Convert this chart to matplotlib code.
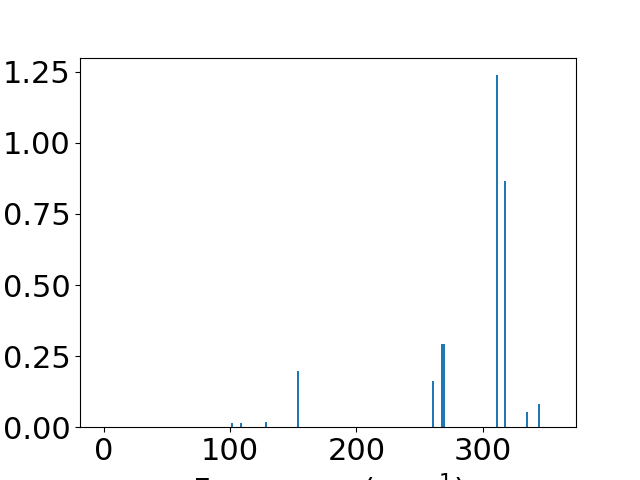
import matplotlib
matplotlib.use("Agg")
import matplotlib.pyplot as plt

# frequencies (cm^-1) and intensities
freq = [101.1, 108.7, 128.5, 153.6, 260.5, 268.2, 269.2, 311.2, 317.5, 335.5, 345.0]
intensity = [0.014, 0.014, 0.018, 0.197, 0.162, 0.292, 0.292, 1.239, 0.866, 0.053, 0.081]

plt.rcParams['font.size'] = 22

fig = plt.figure(figsize=(6.4, 4.8), dpi=100)
plt.bar(freq, intensity, width=1.6, color="#1f77b4")
plt.xlim(-19, 374)
plt.xticks([0, 100, 200, 300])
plt.yticks([0, 0.25, 0.5, 0.75, 1.0, 1.25])
plt.ylim(0, 1.30)
# the label runs off the bottom edge, as in the reference
plt.xlabel("Frequency (cm$^{-1}$)")
plt.savefig("out.png")
